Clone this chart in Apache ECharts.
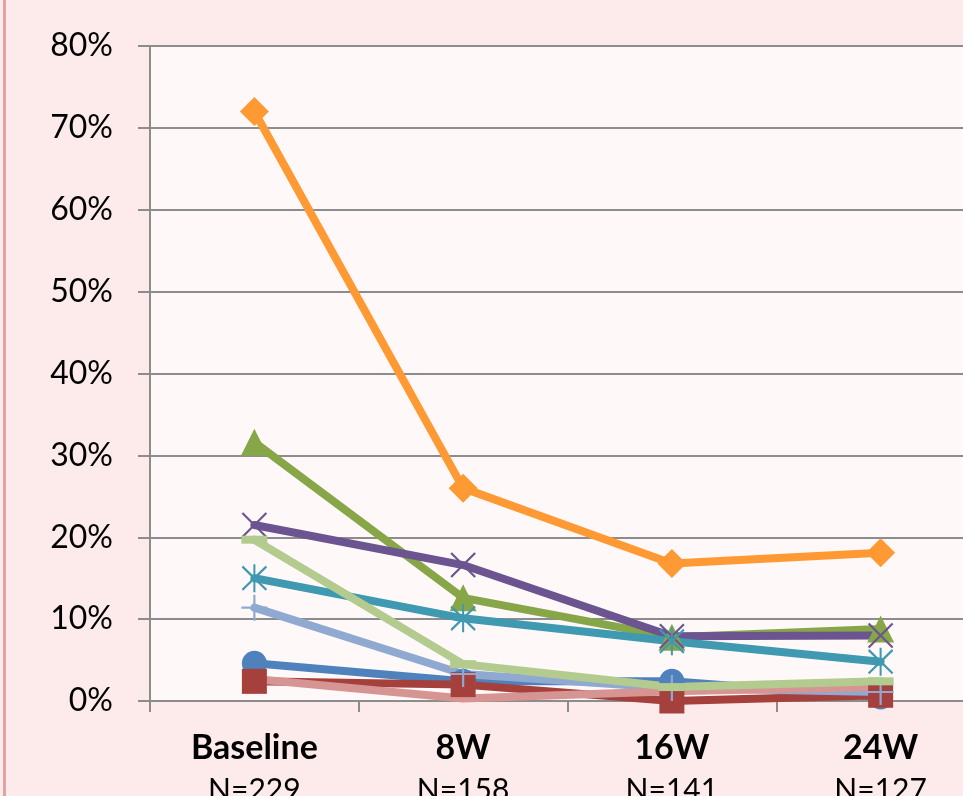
<!DOCTYPE html>
<html><head><meta charset="utf-8">
<script src="https://cdn.jsdelivr.net/npm/echarts@6/dist/echarts.min.js"></script>
<style>html,body{margin:0;padding:0;background:#FDEAEA;overflow:hidden}#c{width:963px;height:796px;}</style>
</head><body><div id="c"></div>
<script>
const categories = ['Baseline', '8W', '16W', '24W'];
const sampleSizes = ['N=229', 'N=158', 'N=141', 'N=127'];
const yMin = 0, yMax = 80, yStep = 10;
const blueCircle   = [4.6, 2.4, 2.4, 0.5];
const redSquare    = [2.4, 2.0, 0.0, 0.7];
const greenTri     = [31.6, 12.6, 7.8, 8.8];
const purpleX      = [21.5, 16.6, 7.9, 8.0];
const tealStar     = [15.0, 10.1, 7.3, 4.8];
const orangeDiam   = [72.0, 26.0, 16.8, 18.1];
const lightBluePlus= [11.4, 3.3, 1.6, 1.1];
const pinkLine     = [2.7, 0.3, 1.2, 1.7];
const lightGreen   = [19.7, 4.5, 1.7, 2.4];

const X_PATH = 'path://M0,0L10,10M10,0L0,10';
const STAR_PATH = 'path://M0,1L10,11M10,1L0,11M5,0L5,12';
const PLUS_PATH = 'path://M0,5L10,5M5,0L5,10';

function filled(name, data, color, symbol, size) {
  return {
    name, type: 'line', data, symbol, symbolSize: size, showAllSymbol: true,
    lineStyle: { color, width: 8, cap: 'round', join: 'round' },
    itemStyle: { color, borderWidth: 0 },
    emphasis: { disabled: true }, silent: true
  };
}
function stroked(name, data, color, symbol, size) {
  return {
    name, type: 'line', data, symbol, symbolSize: size, showAllSymbol: true,
    lineStyle: { color, width: 8, cap: 'round', join: 'round' },
    itemStyle: { color: 'rgba(0,0,0,0)', borderColor: color, borderWidth: 2.2 },
    emphasis: { disabled: true }, silent: true
  };
}

const chart = echarts.init(document.getElementById('c'), null, { renderer: 'canvas' });
chart.setOption({
  animation: false,
  backgroundColor: '#FDEAEA',
  graphic: [{
    type: 'rect', left: 3, top: 0, shape: { width: 3, height: 796 },
    style: { fill: '#E2A3A3' }, silent: true
  }],
  grid: { left: 150, top: 46, width: 835, height: 655, containLabel: false,
    outerBoundsMode: 'none',
    show: true, backgroundColor: '#FFF8F8', borderWidth: 0 },
  xAxis: {
    type: 'category', data: categories, boundaryGap: true,
    axisLine: { lineStyle: { color: '#8C8C8C', width: 2 } },
    axisTick: { show: true, length: 11, lineStyle: { color: '#8C8C8C', width: 2 }, alignWithLabel: false },
    axisLabel: {
      margin: 26, interval: 0,
      formatter: (v, i) => '{a|' + v + '}\n{b|' + sampleSizes[i] + '}',
      rich: {
        a: { fontFamily: 'Lato', fontWeight: 'bold', fontSize: 34, lineHeight: 42, color: '#000' },
        b: { fontFamily: 'Lato', fontSize: 30, lineHeight: 42, color: '#000' }
      }
    },
    splitLine: { show: false }
  },
  yAxis: {
    type: 'value', min: yMin, max: yMax, interval: yStep,
    axisLine: { show: true, lineStyle: { color: '#8C8C8C', width: 2 } },
    axisTick: { show: true, length: 12, lineStyle: { color: '#8C8C8C', width: 2 } },
    axisLabel: { margin: 37, formatter: '{value}%', fontFamily: 'Lato', fontSize: 32, color: '#000' },
    splitLine: { show: true, lineStyle: { color: '#8C8C8C', width: 2 } }
  },
  series: [
    filled('s1', blueCircle, '#4F81BD', 'circle', 25),
    filled('s2', redSquare, '#A5403D', 'rect', 25),
    filled('s3', greenTri, '#86A648', 'triangle', 27),
    stroked('s4', purpleX, '#6C5491', X_PATH, 24),
    stroked('s5', tealStar, '#3E99B1', STAR_PATH, [24, 28]),
    filled('s6', orangeDiam, '#FF9933', 'diamond', 29),
    stroked('s7', lightBluePlus, '#8FA9D0', PLUS_PATH, 26),
    filled('s8', pinkLine, '#D69593', 'none', 10),
    filled('s9', lightGreen, '#B3CB8F', 'rect', [26, 8])
  ]
});
</script></body></html>
